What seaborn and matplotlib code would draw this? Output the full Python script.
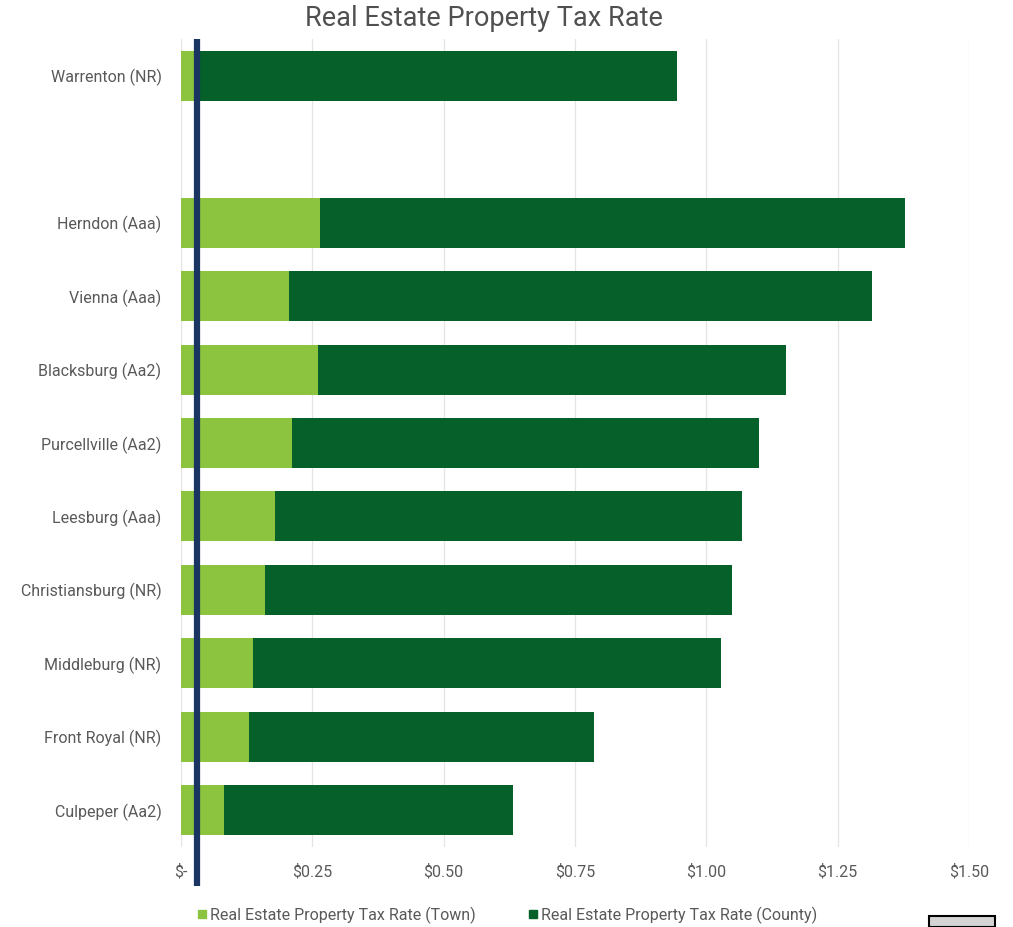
import matplotlib
matplotlib.use("Agg")
import matplotlib.pyplot as plt
import matplotlib.patches as mpatches
from matplotlib.lines import Line2D
import numpy as np
import pandas as pd
import seaborn as sns

# Towns (top to bottom); the blank entry leaves a gap after Warrenton
towns = ["Warrenton (NR)", " ", "Herndon (Aaa)", "Vienna (Aaa)", "Blacksburg (Aa2)",
         "Purcellville (Aa2)", "Leesburg (Aaa)", "Christiansburg (NR)",
         "Middleburg (NR)", "Front Royal (NR)", "Culpeper (Aa2)"]
town_rate = [0.035, np.nan, 0.265, 0.206, 0.260, 0.211, 0.179, 0.160, 0.137, 0.129, 0.082]
county_rate = [0.909, np.nan, 1.113, 1.109, 0.892, 0.889, 0.889, 0.889, 0.891, 0.657, 0.550]
x_ticks = [0, 0.25, 0.50, 0.75, 1.00, 1.25, 1.50]
x_tick_labels = ["$-", "$0.25", "$0.50", "$0.75", "$1.00", "$1.25", "$1.50"]
marker_x = 0.03

df = pd.DataFrame({"town": towns, "Town": town_rate, "County": county_rate})
df["Total"] = df["Town"] + df["County"]

light_green = "#8CC43F"
dark_green = "#05602A"
navy = "#1B3563"
text_gray = "#595959"

sns.set_theme(style="white")
plt.rcParams["font.family"] = ["Roboto", "DejaVu Sans"]

fig = plt.figure(figsize=(10.13, 9.27), dpi=100)
ax = fig.add_axes([181 / 1013, 1 - 847 / 927, (969 - 181) / 1013, (847 - 39) / 927])

sns.barplot(data=df, y="town", x="Total", order=towns, color=dark_green,
            orient="h", width=0.68, saturation=1, ax=ax, errorbar=None, linewidth=0)
sns.barplot(data=df, y="town", x="Town", order=towns, color=light_green,
            orient="h", width=0.68, saturation=1, ax=ax, errorbar=None, linewidth=0)

ax.set_xlim(0, 1.5)
ax.set_xticks(x_ticks)
ax.set_xticklabels(x_tick_labels)
ax.set_xlabel("")
ax.set_ylabel("")
ax.grid(axis="x", color="#E4E4E4", linewidth=0.9)
ax.set_axisbelow(True)
for s in ax.spines.values():
    s.set_visible(False)
ax.tick_params(axis="x", colors=text_gray, labelsize=11.5, pad=12, length=0)
ax.tick_params(axis="y", colors=text_gray, labelsize=11.5, pad=14, length=0)

# vertical reference line
ax.axvline(marker_x, ymin=-0.048, ymax=1.0, color=navy, linewidth=4.5, clip_on=False,
           zorder=5, solid_capstyle="butt")

fig.text(484 / 1013, 1 - 19 / 927, "Real Estate Property Tax Rate", ha="center", va="center",
         fontsize=19.5, color="#505050")

handles = [
    Line2D([], [], marker="s", linestyle="none", markersize=6, color=light_green,
           label="Real Estate Property Tax Rate (Town)"),
    Line2D([], [], marker="s", linestyle="none", markersize=6, color=dark_green,
           label="Real Estate Property Tax Rate (County)"),
]
fig.legend(handles=handles, loc="center", bbox_to_anchor=(0.50, 1 - 915 / 927), ncol=2,
           frameon=False, fontsize=11.5, labelcolor=text_gray, handletextpad=0.1,
           columnspacing=3.2, handlelength=0.8)

fig.patches.append(mpatches.Rectangle((929 / 1013, 0), 66 / 1013, 11 / 927,
                                      transform=fig.transFigure, facecolor="#D4D4D4",
                                      edgecolor="black", linewidth=1.5))

fig.savefig("out.png", dpi=100)
